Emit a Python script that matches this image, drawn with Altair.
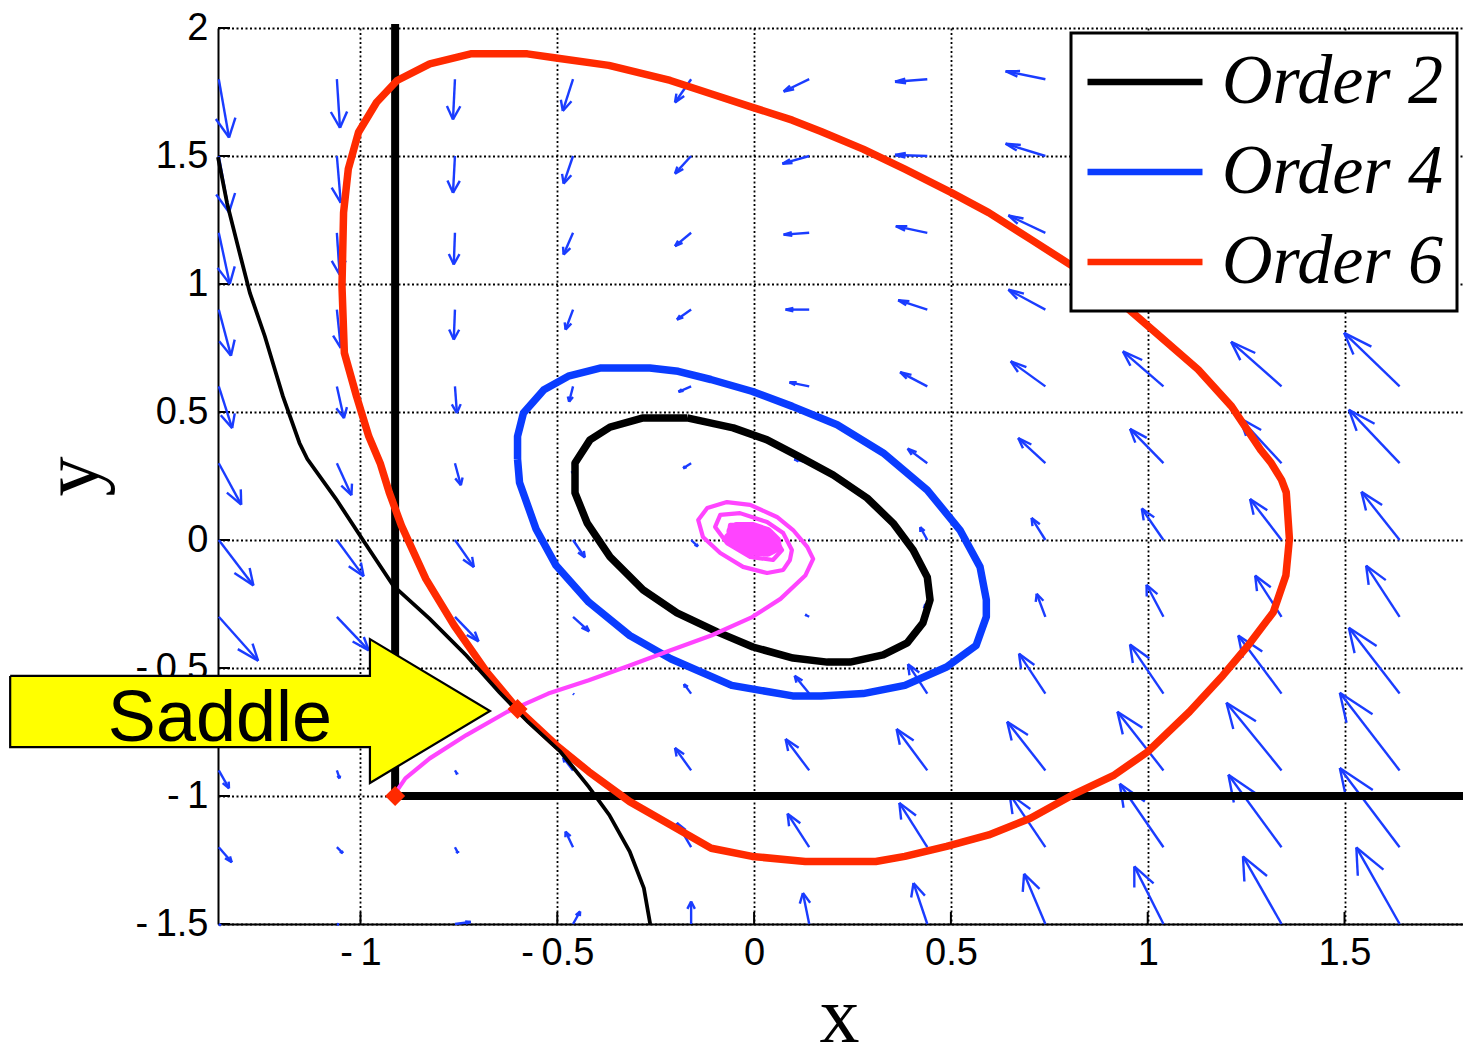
import altair as alt
import pandas as pd

# ---------------- axis limits and ticks ----------------
XMIN, XMAX = -1.362, 1.801
YMIN, YMAX = -1.5, 2.0
XTICKS = [-1.0, -0.5, 0.0, 0.5, 1.0, 1.5]
YTICKS = [-1.5, -1.0, -0.5, 0.0, 0.5, 1.0, 1.5, 2.0]

# ---------------- quiver field ----------------
QX = [-1.36, -1.06, -0.76, -0.46, -0.16, 0.14, 0.44, 0.74, 1.04, 1.34, 1.64]
QY = [1.8, 1.5, 1.2, 0.9, 0.6, 0.3, 0.0, -0.3, -0.6, -0.9, -1.2, -1.5]
QU = [
    [0.026, 0.008, -0.005, -0.026, -0.041, -0.065, -0.082, -0.101, -0.120, -0.145, -0.165],
    [0.026, 0.010, -0.005, -0.024, -0.041, -0.068, -0.082, -0.101, -0.115, -0.140, -0.160],
    [0.028, 0.007, -0.003, -0.024, -0.041, -0.065, -0.080, -0.094, -0.110, -0.135, -0.155],
    [0.031, 0.010, -0.003, -0.019, -0.036, -0.060, -0.074, -0.094, -0.110, -0.130, -0.150],
    [0.034, 0.018, 0.005, -0.010, -0.032, -0.050, -0.069, -0.088, -0.103, -0.128, -0.141],
    [0.057, 0.037, 0.015, 0.002, -0.020, -0.038, -0.050, -0.069, -0.085, -0.106, -0.129],
    [0.088, 0.068, 0.048, 0.030, 0.017, 0.002, -0.018, -0.035, -0.055, -0.080, -0.097],
    [0.100, 0.081, 0.060, 0.041, 0.011, -0.010, -0.005, -0.022, -0.043, -0.067, -0.085],
    [0.070, 0.045, 0.030, 0.002, -0.018, -0.037, -0.049, -0.067, -0.085, -0.110, -0.129],
    [0.026, 0.007, 0.006, -0.025, -0.041, -0.060, -0.078, -0.097, -0.117, -0.140, -0.152],
    [0.033, 0.015, 0.008, -0.019, -0.036, -0.055, -0.071, -0.091, -0.111, -0.135, -0.152],
    [0.005, 0.005, 0.040, 0.018, 0.000, -0.016, -0.035, -0.054, -0.074, -0.098, -0.110],
]
QV = [
    [-0.228, -0.190, -0.157, -0.124, -0.091, -0.048, -0.010, 0.031, 0.065, 0.095, 0.130],
    [-0.220, -0.183, -0.144, -0.108, -0.069, -0.030, 0.004, 0.048, 0.085, 0.115, 0.150],
    [-0.200, -0.163, -0.124, -0.085, -0.052, -0.007, 0.026, 0.068, 0.105, 0.135, 0.170],
    [-0.180, -0.150, -0.117, -0.078, -0.039, 0.000, 0.037, 0.078, 0.125, 0.155, 0.190],
    [-0.163, -0.124, -0.104, -0.060, -0.021, 0.016, 0.056, 0.098, 0.137, 0.174, 0.209],
    [-0.162, -0.125, -0.086, -0.046, -0.020, 0.016, 0.057, 0.098, 0.134, 0.176, 0.209],
    [-0.178, -0.142, -0.106, -0.068, -0.025, 0.002, 0.050, 0.086, 0.123, 0.160, 0.188],
    [-0.172, -0.131, -0.096, -0.057, -0.027, 0.008, 0.050, 0.090, 0.125, 0.161, 0.200],
    [-0.120, -0.075, -0.045, -0.003, 0.037, 0.070, 0.115, 0.156, 0.192, 0.227, 0.257],
    [-0.070, -0.031, -0.015, 0.050, 0.088, 0.123, 0.162, 0.190, 0.229, 0.264, 0.303],
    [-0.059, -0.023, -0.023, 0.061, 0.095, 0.131, 0.173, 0.208, 0.248, 0.283, 0.309],
    [-0.005, -0.002, 0.008, 0.049, 0.088, 0.121, 0.160, 0.196, 0.225, 0.264, 0.299],
]

# ---------------- Lyapunov level sets ----------------
ORDER_NAMES = ["Order 2", "Order 4", "Order 6"]
ORDER_COLORS = ["#000000", "#0a3cff", "#ff2a00"]

O2_X = [-0.170, -0.053, 0.033, 0.117, 0.201, 0.287, 0.353, 0.404, 0.440, 0.447, 0.429, 0.389,
        0.328, 0.244, 0.186, 0.099, -0.003, -0.094, -0.196, -0.282, -0.366, -0.424, -0.455,
        -0.455, -0.417, -0.366, -0.282]
O2_Y = [0.477, 0.438, 0.391, 0.324, 0.254, 0.164, 0.066, -0.039, -0.145, -0.234, -0.324, -0.402,
        -0.449, -0.477, -0.477, -0.461, -0.418, -0.359, -0.285, -0.195, -0.066, 0.066, 0.184,
        0.301, 0.391, 0.441, 0.477]

O4_X = [-0.601, -0.601, -0.586, -0.534, -0.472, -0.389, -0.265, -0.193, -0.110, -0.006, 0.097,
        0.211, 0.328, 0.440, 0.523, 0.574, 0.590, 0.590, 0.564, 0.489, 0.383, 0.277, 0.170,
        0.098, -0.057, -0.212, -0.316, -0.420, -0.503, -0.554, -0.596]
O4_Y = [0.316, 0.405, 0.496, 0.587, 0.640, 0.672, 0.672, 0.659, 0.627, 0.581, 0.522,
        0.450, 0.340, 0.195, 0.039, -0.105, -0.234, -0.300, -0.412, -0.496, -0.568, -0.600, -0.609,
        -0.609, -0.568, -0.464, -0.373, -0.243, -0.100, 0.043, 0.225]

O6_X = [-0.600, -0.679, -0.762, -0.834, -0.896, -0.927, -0.950, -0.979, -1.010, -1.041, -1.047,
        -1.043, -1.031, -1.005, -0.959, -0.907, -0.824, -0.720, -0.576, -0.503, -0.369, -0.213,
        -0.110, -0.006, 0.097, 0.170, 0.277, 0.383, 0.500, 0.596, 0.702, 0.809, 0.890,
        0.957, 1.021, 1.128, 1.213, 1.287, 1.314, 1.340, 1.352, 1.360, 1.351, 1.319, 1.255,
        1.191, 1.106, 1.000, 0.915, 0.809, 0.702, 0.596, 0.489, 0.383, 0.309, 0.170, 0.130,
        -0.005, -0.109, -0.212, -0.316, -0.420, -0.503]
O6_Y = [-0.662, -0.516, -0.334, -0.152, 0.056, 0.186, 0.300, 0.405, 0.561, 0.731, 0.992,
        1.279, 1.449, 1.593, 1.710, 1.795, 1.860, 1.899, 1.899, 1.883, 1.854, 1.795,
        1.743, 1.691, 1.640, 1.596, 1.527, 1.449, 1.358, 1.279, 1.175, 1.070, 0.985,
        0.894, 0.809, 0.666, 0.522, 0.352, 0.300, 0.235, 0.186, 0.004, -0.139, -0.282, -0.412,
        -0.529, -0.671, -0.827, -0.918, -0.996, -1.087, -1.152, -1.197, -1.236, -1.256, -1.256, -1.256,
        -1.236, -1.204, -1.113, -1.022, -0.905, -0.801]

# ---------------- stable manifold of the saddle ----------------
MAN_X = [-1.362, -1.339, -1.311, -1.281, -1.243, -1.197, -1.155, -1.135, -1.062, -0.990, -0.917,
         -0.824, -0.731, -0.648, -0.575, -0.492, -0.420, -0.368, -0.316, -0.280, -0.264]
MAN_Y = [1.496, 1.316, 1.145, 0.965, 0.796, 0.561, 0.379, 0.316, 0.160, -0.009, -0.178,
         -0.308, -0.451, -0.594, -0.710, -0.827, -0.964, -1.074, -1.217, -1.360, -1.500]

# ---------------- trajectory ----------------
TRAJ_X = [-0.912, -0.909, -0.886, -0.824, -0.731, -0.627, -0.523, -0.420, -0.316, -0.212, -0.109,
          -0.005, 0.067, 0.130, 0.150, 0.135, 0.099, 0.058, -0.010, -0.069, -0.119, -0.142, -0.130,
          -0.086, -0.028, 0.033, 0.074, 0.091, 0.096, 0.074, 0.033, -0.036, -0.086, -0.099, -0.069,
          -0.010, 0.048, 0.071, 0.048, -0.010, -0.061, -0.066, -0.028, 0.023, 0.046, 0.015, -0.028,
          -0.045, -0.010, 0.035, 0.060, 0.058, 0.035, -0.005, -0.045, -0.060, -0.055, -0.030,
          0.005, 0.040, 0.048, 0.030, -0.005, -0.035, -0.045, -0.035, -0.010, 0.020, 0.035,
          0.022, -0.005, -0.025, -0.028, -0.012, 0.010, 0.018, 0.005, -0.010, -0.005, 0.005]
TRAJ_Y = [-1.000, -0.983, -0.931, -0.853, -0.762, -0.671, -0.600, -0.548, -0.490, -0.431, -0.373,
          -0.301, -0.230, -0.139, -0.074, -0.027, 0.039, 0.090, 0.137, 0.148, 0.125, 0.078, 0.012,
          -0.051, -0.105, -0.129, -0.117, -0.078, -0.039, 0.027, 0.070, 0.105, 0.098, 0.051, -0.012,
          -0.066, -0.078, -0.039, 0.020, 0.059, 0.059, 0.012, -0.031, -0.047, -0.012, 0.027, 0.031,
          -0.020, -0.045, -0.050, -0.030, 0.000, 0.035, 0.055, 0.055, 0.035, 0.005, -0.025,
          -0.038, -0.035, -0.012, 0.020, 0.040, 0.040, 0.020, -0.005, -0.025, -0.028, -0.012,
          0.010, 0.025, 0.022, 0.005, -0.012, -0.015, -0.002, 0.010, 0.008, -0.003, 0.000]
# the tightly wound tail (index from here on) overlaps into a solid blob in the picture
TRAJ_CORE_START = 41

# ---------------- constraint lines, markers, annotation ----------------
WALL_X = -0.912
FLOOR_Y = -1.0
MARK_X = [-0.912, -0.601]
MARK_Y = [-1.000, -0.660]
ARROW_X = [-1.890, -0.976, -0.976, -0.671, -0.976, -0.976, -1.890, -1.890]
ARROW_Y = [-0.531, -0.531, -0.387, -0.668, -0.949, -0.809, -0.809, -0.531]
LABEL_TEXT = ["Saddle"]
LABEL_X = [-1.357]
LABEL_Y = [-0.785]

BLUE = "#1a3cff"
RED = "#ff2a00"
MAGENTA = "#ff44ff"

# ---------------- build tables ----------------
ALPHA, BETA = 0.33, 0.33
qrows = []
for j, yv in enumerate(QY):
    for i, xv in enumerate(QX):
        u, v = QU[j][i], QV[j][i]
        tx, ty = xv + u, yv + v
        qrows.append(dict(x=xv, y=yv, x2=tx, y2=ty))
        qrows.append(dict(x=tx - ALPHA * (u + BETA * v), y=ty - ALPHA * (v - BETA * u), x2=tx, y2=ty))
        qrows.append(dict(x=tx - ALPHA * (u - BETA * v), y=ty - ALPHA * (v + BETA * u), x2=tx, y2=ty))
quiver_df = pd.DataFrame(qrows)

crows = []
for name, xs, ys in zip(ORDER_NAMES, [O2_X, O4_X, O6_X], [O2_Y, O4_Y, O6_Y]):
    xs2 = xs + [xs[0]]
    ys2 = ys + [ys[0]]
    for k, (a, b) in enumerate(zip(xs2, ys2)):
        crows.append(dict(series=name, i=k, x=a, y=b))
curves_df = pd.DataFrame(crows)

man_df = pd.DataFrame(dict(i=range(len(MAN_X)), x=MAN_X, y=MAN_Y))
traj_df = pd.DataFrame(dict(i=range(len(TRAJ_X)), x=TRAJ_X, y=TRAJ_Y))
core_df = traj_df[traj_df["i"] >= TRAJ_CORE_START]
walls_df = pd.DataFrame(dict(x=[WALL_X, WALL_X], y=[FLOOR_Y, FLOOR_Y],
                             x2=[WALL_X, XMAX], y2=[YMAX, FLOOR_Y]))
marks_df = pd.DataFrame(dict(x=MARK_X, y=MARK_Y))
arrow_df = pd.DataFrame(dict(i=range(len(ARROW_X)), x=ARROW_X, y=ARROW_Y))
label_df = pd.DataFrame(dict(t=LABEL_TEXT, x=LABEL_X, y=LABEL_Y))

TICK_LEN_X = 12 / 393.6
TICK_LEN_Y = 12 / 256.0
ticks_df = pd.DataFrame(
    [dict(x=t, y=YMIN, x2=t, y2=YMIN + TICK_LEN_Y) for t in XTICKS]
    + [dict(x=XMIN, y=t, x2=XMIN + TICK_LEN_X, y2=t) for t in YTICKS]
)

# ---------------- encodings ----------------
LABEL_EXPR = "datum.value < 0 ? '-\u2009' + format(-datum.value, '') : format(datum.value, '')"
xscale = alt.Scale(domain=[XMIN, XMAX], nice=False, zero=False)
yscale = alt.Scale(domain=[YMIN, YMAX], nice=False, zero=False)
xaxis = alt.Axis(values=XTICKS, title="x", grid=True, ticks=False, tickSize=0,
                 labelExpr=LABEL_EXPR, labelFlush=False, labelPadding=10,
                 titleX=621, titleY=117, titleAlign="center", titleBaseline="alphabetic")
yaxis = alt.Axis(values=YTICKS, title="y", grid=True, ticks=False, tickSize=0,
                 labelExpr=LABEL_EXPR, labelFlush=False, labelPadding=10,
                 titleAngle=270, titleX=-121, titleY=448, titleAlign="center",
                 titleBaseline="alphabetic")


def X(f="x"):
    return alt.X(f + ":Q", scale=xscale, axis=xaxis)


def Y(f="y"):
    return alt.Y(f + ":Q", scale=yscale, axis=yaxis)


ticks = alt.Chart(ticks_df).mark_rule(color="black", strokeWidth=2).encode(
    x=X(), y=Y(), x2="x2:Q", y2="y2:Q")

quiver = alt.Chart(quiver_df).mark_rule(color=BLUE, strokeWidth=2.4).encode(
    x=X(), y=Y(), x2="x2:Q", y2="y2:Q")

walls = alt.Chart(walls_df).mark_rule(color="black", strokeWidth=8, strokeCap="square").encode(
    x=X(), y=Y(), x2="x2:Q", y2="y2:Q")

curves = alt.Chart(curves_df).mark_line(strokeWidth=7.5, strokeJoin="round").encode(
    x=X(), y=Y(), order="i:Q",
    color=alt.Color("series:N",
                    scale=alt.Scale(domain=ORDER_NAMES, range=ORDER_COLORS),
                    legend=alt.Legend(title=None, orient="none", legendX=853, legendY=5,
                                      symbolType="stroke", symbolSize=13225,
                                      symbolStrokeWidth=6.5,
                                      clipHeight=72, rowPadding=18, padding=13,
                                      labelOffset=16, labelFont="Liberation Serif",
                                      labelFontStyle="italic", labelFontSize=70,
                                      labelLimit=600, labelColor="black",
                                      fillColor="white", strokeColor="black", zindex=1)))

manifold = alt.Chart(man_df).mark_line(color="black", strokeWidth=3.8).encode(
    x=X(), y=Y(), order="i:Q")

arrow = alt.Chart(arrow_df).mark_line(fill="#ffff00", stroke="black", strokeWidth=2.2,
                                      strokeJoin="miter").encode(
    x=X(), y=Y(), order="i:Q")

label = alt.Chart(label_df).mark_text(font="Liberation Sans", fontSize=72, align="center",
                                      baseline="alphabetic", color="black").encode(
    x=X(), y=Y(), text="t:N")

traj = alt.Chart(traj_df).mark_line(color=MAGENTA, strokeWidth=4.2, strokeJoin="round").encode(
    x=X(), y=Y(), order="i:Q")

core = alt.Chart(core_df).mark_line(color=MAGENTA, strokeWidth=8, strokeJoin="round",
                                    strokeCap="round").encode(
    x=X(), y=Y(), order="i:Q")

markers = alt.Chart(marks_df).mark_point(shape="diamond", filled=True, color=RED,
                                         size=400, opacity=1).encode(x=X(), y=Y())

chart = alt.layer(ticks, quiver, walls, curves, manifold, arrow, label, traj, core,
                  markers).properties(
    width=1245, height=896,
    autosize=alt.AutoSizeParams(type="none"),
    padding={"left": 210, "top": 20, "right": 0, "bottom": 119},
).configure_axis(
    domainColor="black", domainWidth=2,
    gridColor="black", gridDash=[2, 2.5], gridWidth=1.8, gridOpacity=1,
    labelFont="Liberation Sans", labelFontSize=38, labelColor="black",
    titleFont="Liberation Serif", titleFontSize=80, titleFontWeight="normal", titleColor="black",
).configure_legend(
    strokeWidth=3,
).configure_view(
    strokeWidth=0,
)

chart.save("out.html", embed_options={"renderer": "svg", "actions": False})
